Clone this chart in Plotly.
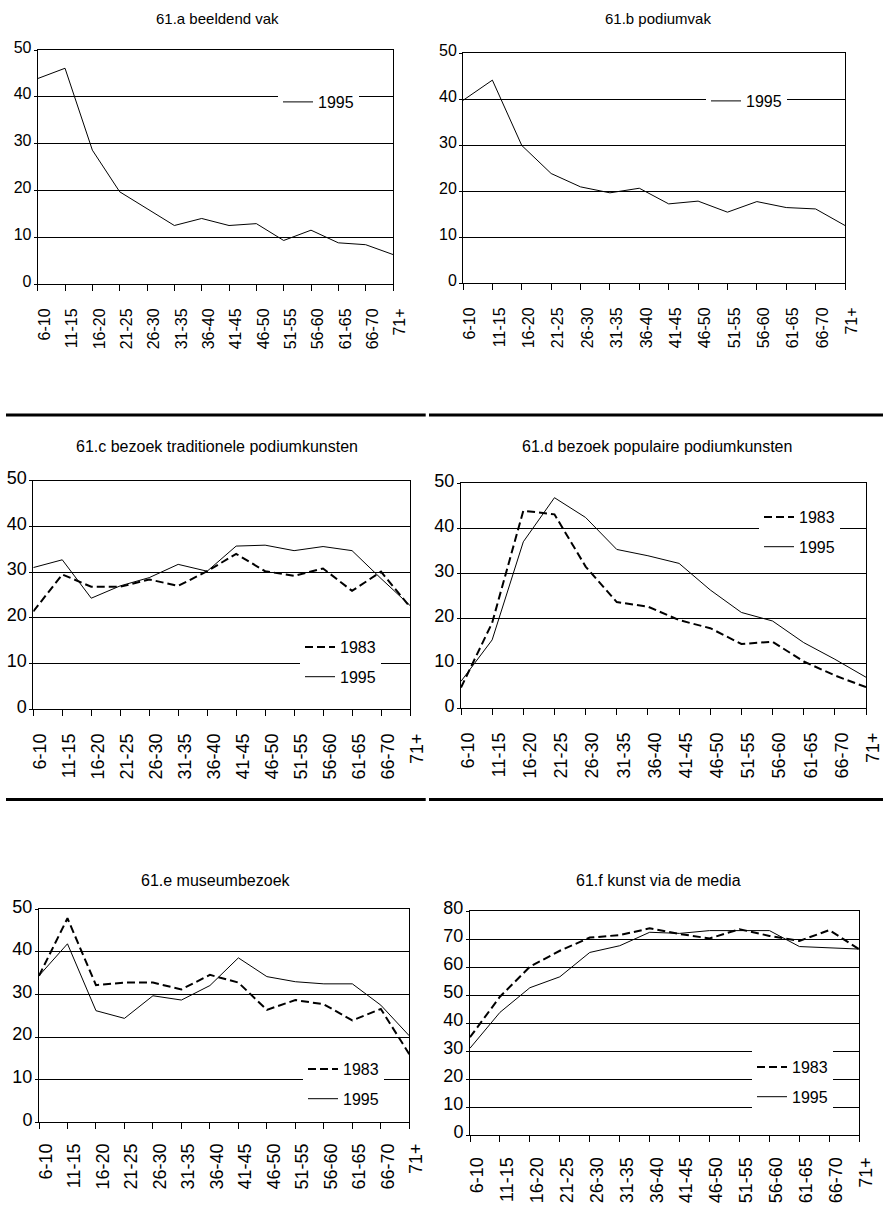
import plotly.graph_objects as go

W, H = 887, 1213

ages = ["6-10", "11-15", "16-20", "21-25", "26-30", "31-35", "36-40",
        "41-45", "46-50", "51-55", "56-60", "61-65", "66-70", "71+"]

a_1995 = [43.9, 46.1, 28.6, 19.7, 16.1, 12.5, 14.0, 12.5, 12.9, 9.3, 11.5, 8.8, 8.4, 6.3]
b_1995 = [39.7, 44.1, 29.9, 23.8, 20.9, 19.6, 20.6, 17.2, 17.8, 15.4, 17.7, 16.4, 16.1, 12.5]
c_1983 = [21.4, 29.5, 26.8, 26.8, 28.4, 27.0, 30.2, 34.0, 30.2, 29.2, 30.8, 25.9, 30.1, 22.4]
c_1995 = [31.0, 32.7, 24.3, 27.0, 28.8, 31.7, 30.2, 35.7, 35.9, 34.7, 35.6, 34.7, 28.6, 22.7]
d_1983 = [4.6, 19.0, 43.9, 43.1, 31.5, 23.6, 22.6, 19.6, 17.8, 14.3, 14.8, 10.4, 7.3, 4.7]
d_1995 = [6.0, 15.2, 37.0, 46.8, 42.4, 35.3, 33.9, 32.2, 26.3, 21.3, 19.4, 14.6, 10.9, 6.9]
e_1983 = [34.4, 47.9, 32.2, 32.8, 32.8, 31.2, 34.6, 32.8, 26.4, 28.7, 27.7, 23.9, 26.6, 16.0]
e_1995 = [34.4, 41.9, 26.2, 24.4, 29.7, 28.7, 32.1, 38.6, 34.2, 33.0, 32.5, 32.5, 27.5, 20.3]
f_1983 = [34.9, 49.4, 60.1, 65.8, 70.5, 71.4, 73.8, 71.8, 70.2, 73.5, 71.1, 69.3, 73.2, 66.3]
f_1995 = [31.0, 43.8, 52.6, 56.5, 65.2, 67.6, 72.4, 72.0, 73.0, 73.0, 73.0, 67.3, 66.9, 66.4]

titles = ["61.a beeldend vak", "61.b podiumvak",
          "61.c bezoek traditionele podiumkunsten",
          "61.d bezoek populaire podiumkunsten",
          "61.e museumbezoek", "61.f kunst via de media"]

NARROW = "Liberation Sans Narrow, Arial Narrow, Liberation Sans, Arial"
ARIAL = "Liberation Sans, Arial, sans-serif"

# panel geometry in pixels: left, right, top, bottom
panels = [
    dict(box=(37.7, 393.0, 50.0, 284.0), ymax=50, series=[("1995", a_1995, "solid")],
         title=(217, 18, 15), tick=16, ytick=16, leg=(278, 85), xstand=11),
    dict(box=(463.0, 845.0, 53.0, 283.0), ymax=50, series=[("1995", b_1995, "solid")],
         title=(658, 18, 15), tick=16, ytick=16, leg=(706, 84), xstand=11),
    dict(box=(33.3, 410.0, 480.7, 709.3), ymax=50,
         series=[("1983", c_1983, "dash"), ("1995", c_1995, "solid")],
         title=(217, 447, 16), tick=18, ytick=18, leg=(300, 630), xstand=10),
    dict(box=(461.0, 866.0, 483.3, 708.3), ymax=50,
         series=[("1983", d_1983, "dash"), ("1995", d_1995, "solid")],
         title=(657, 447, 16), tick=18, ytick=18, leg=(759, 500), xstand=10),
    dict(box=(39.0, 409.3, 909.3, 1122.3), ymax=50,
         series=[("1983", e_1983, "dash"), ("1995", e_1995, "solid")],
         title=(216, 880, 16), tick=18, ytick=18, leg=(303, 1052), xstand=7),
    dict(box=(470.0, 859.3, 911.0, 1135.0), ymax=80,
         series=[("1983", f_1983, "dash"), ("1995", f_1995, "solid")],
         title=(658, 880, 16), tick=18, ytick=18, leg=(752, 1050), xstand=8),
]

fig = go.Figure()
layout = dict(template="none", width=W, height=H, margin=dict(l=0, r=0, t=0, b=0, pad=0),
              autosize=False, paper_bgcolor="white", plot_bgcolor="white", showlegend=True,
              annotations=[], shapes=[])

for i, p in enumerate(panels):
    n = "" if i == 0 else str(i + 1)
    xa, ya = "x" + n, "y" + n
    lg = "legend" + n
    l, r, t, b = p["box"]
    for k, (name, vals, dash) in enumerate(p["series"]):
        fig.add_trace(go.Scatter(
            x=ages, y=vals, mode="lines", name=name, xaxis=xa, yaxis=ya,
            legend=lg, legendgroup=f"{i}-{k}",
            line=dict(color="black", width=2 if dash == "dash" else 1,
                      dash="8px,4px" if dash == "dash" else "solid")))
    layout["xaxis" + n] = dict(
        domain=[l / W, r / W], anchor=ya, type="category", range=[0, 13],
        automargin=False,
        showgrid=False, showline=True, mirror=True, linecolor="black", linewidth=1,
        ticks="outside", ticklen=6, tickcolor="black", tickangle=-90,
        tickfont=dict(family=ARIAL, size=p["tick"], color="black"),
        ticklabelshift=7, ticklabelstandoff=p["xstand"], fixedrange=True)
    layout["yaxis" + n] = dict(
        domain=[1 - b / H, 1 - t / H], anchor=xa, range=[0, p["ymax"]], dtick=10,
        automargin=False,
        showgrid=True, gridcolor="black", gridwidth=1, zeroline=False,
        showline=True, mirror=True, linecolor="black", linewidth=1,
        ticks="outside", ticklen=3, tickcolor="black",
        tickfont=dict(family=NARROW, size=p["ytick"], color="black"),
        ticklabelshift=-3, ticklabelstandoff=-1, fixedrange=True)
    lx, ly = p["leg"]
    layout[lg] = dict(x=lx / W, y=1 - ly / H, xanchor="left", yanchor="top",
                      bgcolor="white", borderwidth=0, traceorder="grouped",
                      tracegroupgap=6, itemwidth=30,
                      font=dict(family=NARROW, size=16, color="black"))
    cx, cy, fs = p["title"]
    layout["annotations"].append(dict(
        text=titles[i], x=cx / W, y=1 - cy / H, xref="paper", yref="paper",
        xanchor="center", yanchor="middle", showarrow=False,
        font=dict(family=NARROW, size=fs, color="black")))

# separator rules between the chart rows
for yy in (415.0, 799.5):
    for x0, x1 in ((6.0, 425.7), (429.0, 883.0)):
        layout["shapes"].append(dict(
            type="line", xref="paper", yref="paper",
            x0=x0 / W, x1=x1 / W, y0=1 - yy / H, y1=1 - yy / H,
            line=dict(color="black", width=3)))

fig.update_layout(**layout)
fig.write_html("out.html", config={"displayModeBar": False},
               post_script="document.body.style.margin='0px';")
